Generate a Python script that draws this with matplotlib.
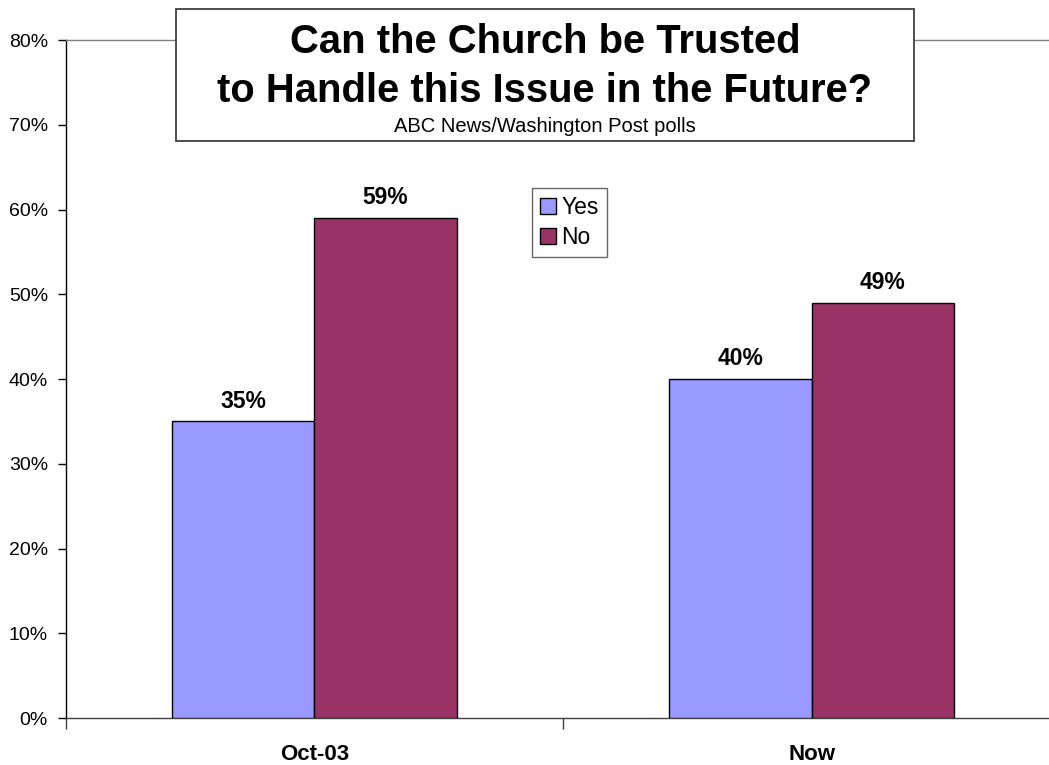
import matplotlib.pyplot as plt
from matplotlib.patches import Rectangle
from matplotlib.ticker import FuncFormatter
import numpy as np

plt.rcParams["font.family"] = ["Liberation Sans", "DejaVu Sans"]

categories = ["Oct-03", "Now"]
yes_vals = [35, 40]
no_vals = [59, 49]
series_names = ["Yes", "No"]

COL = {"yes": "#9999FF", "no": "#993366", "edge": "#000000", "frame": "#808080"}

fig = plt.figure(figsize=(10.49, 7.65), dpi=100)
ax = fig.add_axes([0.0629, 0.0614, 0.9476, 0.8863])

x = np.arange(len(categories))
w = 0.286
b_yes = ax.bar(x - w / 2, yes_vals, width=w, color=COL["yes"], edgecolor=COL["edge"],
               linewidth=1.0, label=series_names[0], zorder=3)
b_no = ax.bar(x + w / 2, no_vals, width=w, color=COL["no"], edgecolor=COL["edge"],
              linewidth=1.0, label=series_names[1], zorder=3)

for bars, vals in ((b_yes, yes_vals), (b_no, no_vals)):
    for b, v in zip(bars, vals):
        ax.annotate(f"{v}%", (b.get_x() + b.get_width() / 2, v), xytext=(0, 10),
                    textcoords="offset points", ha="center", va="baseline",
                    fontsize=16.5, fontweight="bold")

ax.set_xlim(-0.5, 1.5)
ax.set_ylim(0, 80)
ax.set_yticks(range(0, 81, 10))
ax.yaxis.set_major_formatter(FuncFormatter(lambda v, _: f"{v:.0f}%"))
ax.tick_params(axis="y", direction="out", length=6, width=1, labelsize=14, pad=7)

ax.set_xticks([-0.5, 0.5, 1.5])
ax.set_xticklabels([])
ax.tick_params(axis="x", which="major", direction="out", length=8, width=1, color="#404040")
ax.set_xticks(x, minor=True)
ax.set_xticklabels(categories, minor=True, fontsize=16, fontweight="bold")
ax.tick_params(axis="x", which="minor", length=0, pad=19)

ax.spines["left"].set_color("#000000")
ax.spines["bottom"].set_color("#404040")
ax.spines["top"].set_color(COL["frame"])
ax.spines["right"].set_visible(False)
for s in ax.spines.values():
    s.set_linewidth(1.0)

leg = ax.legend(loc="upper left", bbox_to_anchor=(0.4688, 0.7817), fontsize=16.5,
                frameon=True, fancybox=False, edgecolor="#404040", handlelength=0.68,
                handleheight=0.68, handletextpad=0.25, borderpad=0.35, labelspacing=0.3,
                borderaxespad=0)
leg.get_frame().set_linewidth(1.0)

# title box
fig.patches.append(Rectangle((0.1678, 0.8157), 0.7035, 0.1725, transform=fig.transFigure,
                             facecolor="white", edgecolor="#404040", linewidth=1.3, zorder=5))
fig.text(0.5195, 0.9307, "Can the Church be Trusted", ha="center", va="baseline",
         fontsize=28.8, fontweight="bold", zorder=6)
fig.text(0.5195, 0.8667, "to Handle this Issue in the Future?", ha="center", va="baseline",
         fontsize=28.8, fontweight="bold", zorder=6)
fig.text(0.5195, 0.8281, "ABC News/Washington Post polls", ha="center", va="baseline",
         fontsize=14.5, zorder=6)

fig.savefig("out.png", dpi=100)
